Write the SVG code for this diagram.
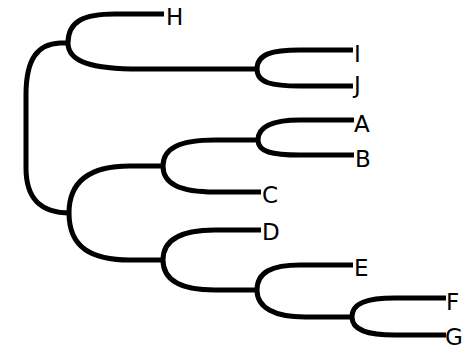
<svg xmlns="http://www.w3.org/2000/svg" width="476" height="350" viewBox="0 0 476 350">
  <style>
    .br { fill: none; stroke: #000; stroke-width: 5; stroke-linecap: butt; stroke-linejoin: round; }
    .lbl { font-family: "DejaVu Sans", "Liberation Sans", sans-serif; font-size: 23px; fill: #000; }
  </style>
  <rect width="476" height="350" fill="#fff"/>
  <g id="connectors">
    <!-- root -->
    <path class="br" d="M 68,43 L 60,43 C 38,44 26,58 26,95 L 26,168 C 26,200 42,213 70,213"/>
    <!-- H | IJ fork -->
    <path class="br" d="M 68,43 C 68,21 84,14 115,14 L 164,14"/>
    <path class="br" d="M 68,43 C 68,62 92,69 140,69 L 258,69"/>
    <!-- I | J fork -->
    <path class="br" d="M 257,69 C 257,54 272,50 300,50 L 353,50"/>
    <path class="br" d="M 257,69 C 257,83 272,86 300,86 L 353,86"/>
    <!-- ABC | DEFG fork -->
    <path class="br" d="M 69,213 C 69,180 92,166 130,166 L 164,166"/>
    <path class="br" d="M 69,213 C 69,248 92,260 130,260 L 164,260"/>
    <!-- AB | C fork -->
    <path class="br" d="M 163,166 C 163,148 180,140 215,140 L 259,140"/>
    <path class="br" d="M 163,166 C 163,184 180,192 215,192 L 261,192"/>
    <!-- A | B fork -->
    <path class="br" d="M 258,140 C 258,126 272,120 300,120 L 354,120"/>
    <path class="br" d="M 258,140 C 258,152 272,155 300,155 L 354,155"/>
    <!-- D | EFG fork -->
    <path class="br" d="M 163,260 C 163,240 180,230 215,230 L 261,230"/>
    <path class="br" d="M 163,260 C 163,280 180,290 215,290 L 258,290"/>
    <!-- E | FG fork -->
    <path class="br" d="M 257,290 C 257,272 272,265 300,265 L 353,265"/>
    <path class="br" d="M 257,290 C 257,308 275,317 305,317 L 353,317"/>
    <!-- F | G fork -->
    <path class="br" d="M 352,317 C 352,303 367,298 395,298 L 446,298"/>
    <path class="br" d="M 352,317 C 352,330 367,335 395,335 L 446,335"/>
  </g>
  <g id="H"><text class="lbl" x="166" y="25">H</text></g>
  <g id="I"><text class="lbl" x="354" y="62">I</text></g>
  <g id="J"><text class="lbl" x="354" y="93">J</text></g>
  <g id="A"><text class="lbl" x="354" y="132">A</text></g>
  <g id="B"><text class="lbl" x="355" y="167">B</text></g>
  <g id="C"><text class="lbl" x="262" y="203">C</text></g>
  <g id="D"><text class="lbl" x="262" y="240">D</text></g>
  <g id="E"><text class="lbl" x="354" y="276">E</text></g>
  <g id="F"><text class="lbl" x="446" y="310">F</text></g>
  <g id="G"><text class="lbl" x="445" y="345">G</text></g>
</svg>
